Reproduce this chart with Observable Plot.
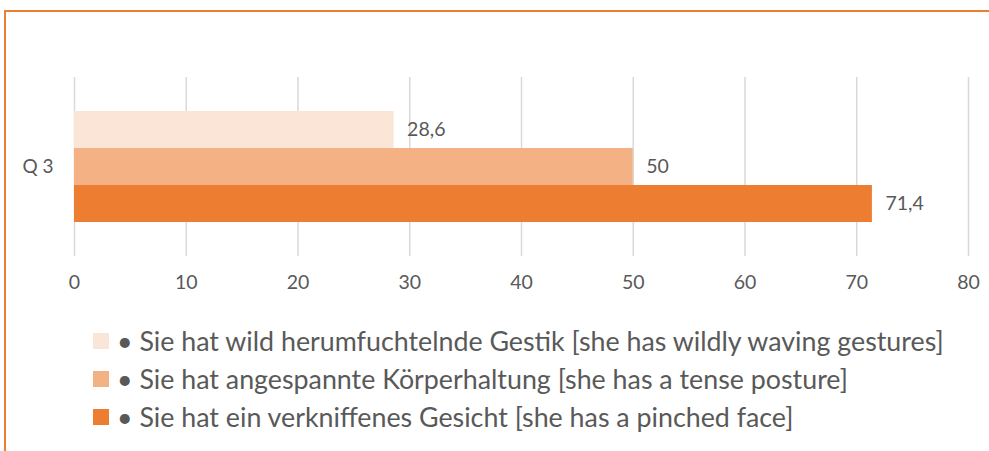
<!DOCTYPE html>
<html>
<head>
<meta charset="utf-8">
<script src="https://cdn.jsdelivr.net/npm/d3@7"></script>
<script src="https://cdn.jsdelivr.net/npm/@observablehq/plot@0.6"></script>
<style>
  body { margin: 0; background: #fff; width: 989px; height: 451px; overflow: hidden; position: relative; font-family: Lato, "Open Sans", sans-serif; }
  #frame { position: absolute; left: 4px; top: 10px; width: 1100px; height: 600px; border-top: 2px solid #ED7D31; border-left: 2px solid #ED7D31; }
  #chart { position: absolute; left: 0; top: 0; }
  #legend { position: absolute; left: 93px; top: 322px; color: #595959; font-size: 26.8px; }
  .row { display: flex; align-items: center; height: 38px; white-space: nowrap; }
  .sw { width: 16px; height: 16px; margin-right: 8px; flex: none; }
</style>
</head>
<body>
<div id="frame"></div>
<div id="chart"></div>
<div id="legend"></div>
<script>
const questions = ["Q 3"];
const series = [
  "• Sie hat wild herumfuchtelnde Gestik [she has wildly waving gestures]",
  "• Sie hat angespannte Körperhaltung [she has a tense posture]",
  "• Sie hat ein verkniffenes Gesicht [she has a pinched face]"
];
const values = [28.6, 50, 71.4];
const colors = ["#FBE5D6", "#F4B183", "#ED7D31"];
const xTicks = [0, 10, 20, 30, 40, 50, 60, 70, 80];

const data = series.map((s, i) => ({q: questions[0], s, v: values[i]}));
const fmt = v => String(v).replace(".", ",");

const chart = Plot.plot({
  width: 989,
  height: 300,
  marginTop: 77,
  marginBottom: 44,
  marginLeft: 74,
  marginRight: 21,
  style: {fontFamily: "Lato, 'Open Sans', sans-serif", color: "#595959", background: "transparent"},
  x: {domain: [0, 80], ticks: xTicks, label: null},
  y: {domain: series, axis: null, padding: 0, insetTop: 34, insetBottom: 34},
  fy: {domain: questions, padding: 0, label: null},
  color: {domain: series, range: colors},
  marks: [
    Plot.gridX(xTicks, {stroke: "#d9d9d9", strokeOpacity: 1, strokeWidth: 1.5}),
    Plot.axisX(xTicks, {tickSize: 0, tickPadding: 19, fontSize: 19.5, fill: "#595959", tickFormat: d => d}),
    Plot.axisFy({anchor: "left", tickSize: 0, tickPadding: 21, fontSize: 19, fill: "#595959", label: null}),
    Plot.barX(data, {x: "v", y: "s", fy: "q", fill: "s"}),
    Plot.text(data, {x: "v", y: "s", fy: "q", text: d => fmt(d.v), dx: 13, textAnchor: "start", fontSize: 19.5, fill: "#595959"})
  ]
});
document.getElementById("chart").appendChild(chart);

const legend = document.getElementById("legend");
series.forEach((s, i) => {
  const row = document.createElement("div");
  row.className = "row";
  const sw = document.createElement("span");
  sw.className = "sw";
  sw.style.background = colors[i];
  const t = document.createElement("span");
  t.textContent = s;
  row.appendChild(sw);
  row.appendChild(t);
  legend.appendChild(row);
});
</script>
</body>
</html>
